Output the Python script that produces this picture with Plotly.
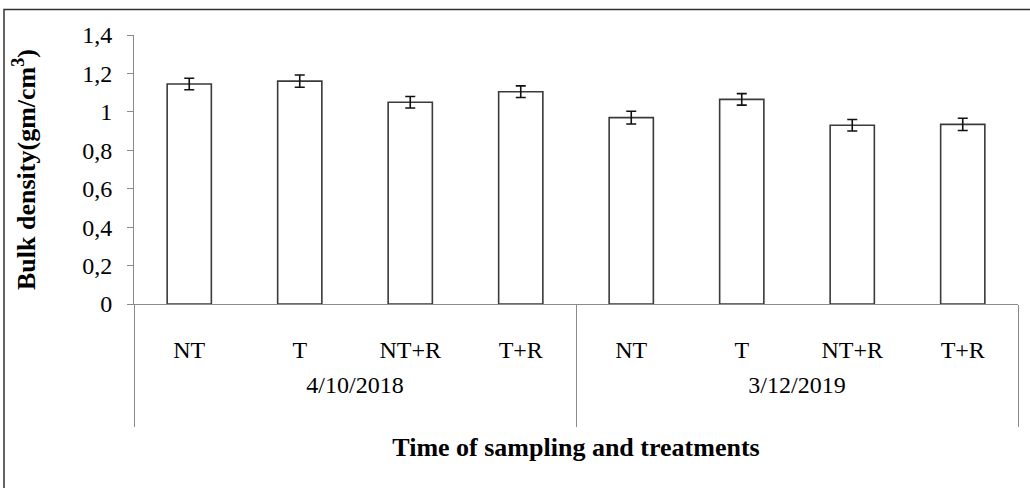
import plotly.graph_objects as go

dates = ["4/10/2018"] * 4 + ["3/12/2019"] * 4
treatments = ["NT", "T", "NT+R", "T+R", "NT", "T", "NT+R", "T+R"]
bulk_density = [1.145, 1.16, 1.05, 1.105, 0.97, 1.065, 0.93, 0.935]
std_err = [0.03, 0.032, 0.03, 0.03, 0.033, 0.03, 0.03, 0.032]
y_ticks = [0, 0.2, 0.4, 0.6, 0.8, 1.0, 1.2, 1.4]

W, H = 1030, 488
ml, mr, mt, mb = 134, 12, 35, 183.5
pw, ph = W - ml - mr, H - mt - mb

# invisible spacer lines: widen the gap between the two label levels and
# lengthen the group dividers, as in the reference
spacer = "<br><span style='color:rgba(0,0,0,0);font-size:{}px'>.</span>"
inner_labels = [t + spacer.format(22) for t in treatments]
outer_labels = [d + spacer.format(8) for d in dates]

fig = go.Figure()
fig.add_trace(go.Bar(
    x=[outer_labels, inner_labels],
    y=bulk_density,
    marker=dict(color="white", line=dict(color="#3a3a3a", width=1.6)),
    error_y=dict(type="data", array=std_err, visible=True,
                 color="#111111", thickness=1.6, width=5),
    width=0.4,
    showlegend=False,
    hoverinfo="skip",
))

serif = "Liberation Serif, Times New Roman, serif"

fig.update_layout(
    width=W, height=H,
    margin=dict(l=ml, r=mr, t=mt, b=mb, autoexpand=False),
    paper_bgcolor="white", plot_bgcolor="white",
    separators=",.",
    font=dict(family=serif, color="black"),
    xaxis=dict(
        type="multicategory",
        showline=True, linecolor="#8a8a8a", linewidth=1,
        ticks="", showgrid=False,
        showdividers=True, dividercolor="#8a8a8a", dividerwidth=1,
        tickfont=dict(family=serif, size=24, color="black"),
        ticklabelstandoff=24,
        title=dict(text="<b>Time of sampling and treatments</b>",
                   font=dict(family=serif, size=26, color="black"),
                   standoff=12),
        automargin=False,
    ),
    yaxis=dict(
        range=[0, 1.4], tickvals=y_ticks,
        showline=True, linecolor="#8a8a8a", linewidth=1,
        ticks="outside", ticklen=6, tickcolor="#8a8a8a",
        ticklabelstandoff=10,
        showgrid=False, zeroline=False,
        tickfont=dict(family=serif, size=24, color="black"),
        title=dict(text="<b>Bulk density(gm/cm<sup>3</sup>)</b>",
                   font=dict(family=serif, size=26, color="black"),
                   standoff=39),
        automargin=False,
    ),
    shapes=[dict(
        type="rect", xref="paper", yref="paper",
        x0=(4 - ml) / pw, x1=(1040 - ml) / pw,
        y0=-(H + 10 - mt - ph) / ph, y1=(H - mb - 9.5) / ph,
        line=dict(color="#333333", width=1.5), fillcolor="rgba(0,0,0,0)",
        layer="below",
    )],
)

fig.write_html("out.html", config={"displayModeBar": False},
               post_script="document.body.style.margin='0px';")
